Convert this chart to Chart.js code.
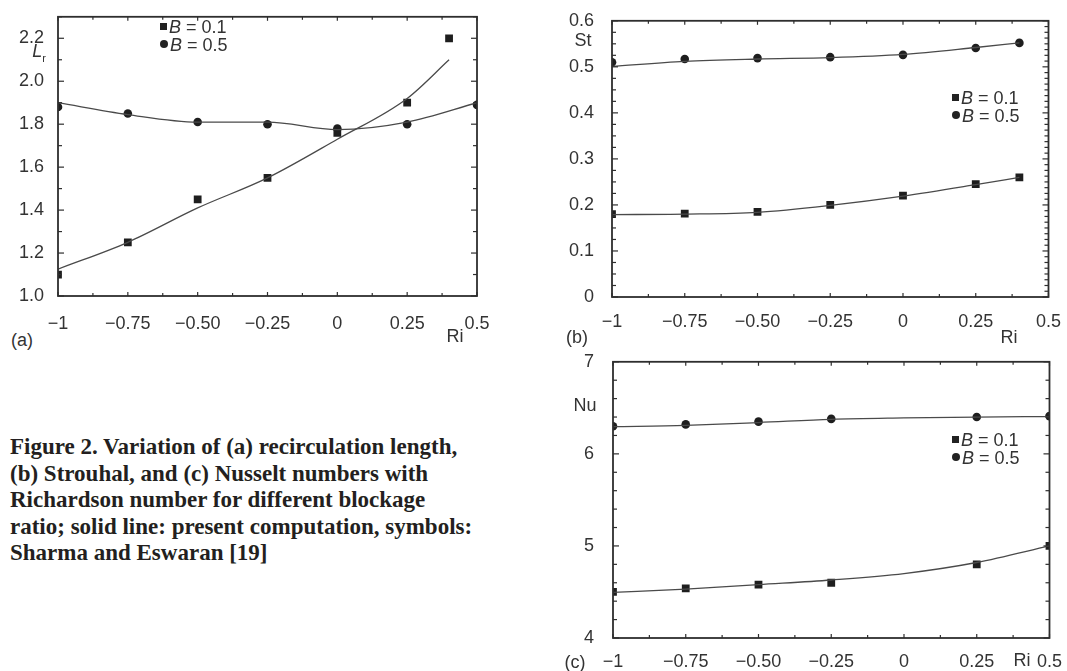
<!DOCTYPE html>
<html>
<head>
<meta charset="utf-8">
<script src="https://cdn.jsdelivr.net/npm/chart.js@4/dist/chart.umd.min.js"></script>
<style>
body { margin: 0; width: 1067px; height: 671px; background: #fff; position: relative; overflow: hidden;
       font-family: "Liberation Sans", Arial, sans-serif; color: #333; }
canvas { position: absolute; }
.lbl { position: absolute; font-size: 18px; line-height: 1; white-space: nowrap; transform: translate(-50%, -50%); }
.legend { position: absolute; font-size: 18px; line-height: 18px; white-space: nowrap; color: #333; }
.legend .m { display: inline-block; width: 7px; height: 7px; background: #222; margin-right: 2px; vertical-align: 3px; }
.legend .c { border-radius: 50%; width: 8px; height: 8px; }
#caption { position: absolute; left: 10px; top: 434px; font-family: "Liberation Serif", "Times New Roman", serif;
           font-weight: bold; font-size: 23px; line-height: 26.5px; color: #231f20; white-space: nowrap; }
</style>
</head>
<body>

<canvas id="chartA" width="500" height="330" style="left:0;top:0"></canvas>
<canvas id="chartB" width="527" height="330" style="left:540px;top:0"></canvas>
<canvas id="chartC" width="527" height="331" style="left:540px;top:340px"></canvas>

<div class="lbl" style="left:22px;top:340px">(a)</div>
<div class="lbl" style="left:455px;top:336px">Ri</div>
<div class="lbl" style="left:39px;top:53px"><i>L</i><sub style="font-size:11px">r</sub></div>
<div class="legend" style="left:160px;top:18px">
  <div><span class="m"></span><i>B</i> = 0.1</div>
  <div><span class="m c"></span><i>B</i> = 0.5</div>
</div>

<div class="lbl" style="left:577px;top:337px">(b)</div>
<div class="lbl" style="left:1009px;top:337px">Ri</div>
<div class="lbl" style="left:583px;top:40px">St</div>
<div class="legend" style="left:952px;top:89px">
  <div><span class="m"></span><i>B</i> = 0.1</div>
  <div><span class="m c"></span><i>B</i> = 0.5</div>
</div>

<div class="lbl" style="left:575px;top:662px">(c)</div>
<div class="lbl" style="left:1022px;top:660px">Ri</div>
<div class="lbl" style="left:585px;top:405px">Nu</div>
<div class="legend" style="left:952px;top:431px">
  <div><span class="m"></span><i>B</i> = 0.1</div>
  <div><span class="m c"></span><i>B</i> = 0.5</div>
</div>

<div id="caption">Figure 2. Variation of (a) recirculation length,<br>(b) Strouhal, and (c) Nusselt numbers with<br>Richardson number for different blockage<br>ratio; solid line: present computation, symbols:<br>Sharma and Eswaran [19]</div>

<script>
// x axis, shared by all three panels
const riTicks = [-1, -0.75, -0.5, -0.25, 0, 0.25, 0.5];
const riTickLabels = ['\u22121', '\u22120.75', '\u22120.50', '\u22120.25', '0', '0.25', '0.5'];

// (a) recirculation length Lr
const lrTicks = [1.0, 1.2, 1.4, 1.6, 1.8, 2.0, 2.2];
const lrTickLabels = ['1.0', '1.2', '1.4', '1.6', '1.8', '2.0', '2.2'];
const lrRi01 = [-1, -0.75, -0.5, -0.25, 0, 0.25, 0.4];
const lrSym01 = [1.10, 1.25, 1.45, 1.55, 1.76, 1.90, 2.20];
const lrRi05 = [-1, -0.75, -0.5, -0.25, 0, 0.25, 0.5];
const lrSym05 = [1.88, 1.85, 1.81, 1.80, 1.78, 1.80, 1.89];
const lrLineRi01 = [-1, -0.75, -0.5, -0.25, 0, 0.25, 0.4];
const lrLine01 = [1.125, 1.25, 1.41, 1.55, 1.73, 1.92, 2.10];
const lrLineRi05 = [-1, -0.75, -0.5, -0.25, 0, 0.25, 0.5];
const lrLine05 = [1.90, 1.845, 1.81, 1.81, 1.775, 1.81, 1.90];

// (b) Strouhal number St
const stTicks = [0, 0.1, 0.2, 0.3, 0.4, 0.5, 0.6];
const stTickLabels = ['0', '0.1', '0.2', '0.3', '0.4', '0.5', '0.6'];
const stRi = [-1, -0.75, -0.5, -0.25, 0, 0.25, 0.4];
const stSym01 = [0.18, 0.181, 0.185, 0.20, 0.22, 0.245, 0.26];
const stSym05 = [0.51, 0.517, 0.519, 0.521, 0.526, 0.541, 0.552];
const stLine01 = [0.179, 0.18, 0.184, 0.199, 0.219, 0.244, 0.26];
const stLine05 = [0.501, 0.512, 0.517, 0.52, 0.527, 0.542, 0.552];

// (c) Nusselt number Nu
const nuTicks = [4, 5, 6, 7];
const nuTickLabels = ['4', '5', '6', '7'];
const nuRiSym = [-1, -0.75, -0.5, -0.25, 0.25, 0.5];
const nuSym01 = [4.50, 4.54, 4.58, 4.60, 4.80, 5.00];
const nuSym05 = [6.30, 6.32, 6.35, 6.38, 6.40, 6.41];
const nuRiLine = [-1, -0.75, -0.5, -0.25, 0, 0.25, 0.5];
const nuLine01 = [4.495, 4.53, 4.58, 4.63, 4.70, 4.82, 5.00];
const nuLine05 = [6.295, 6.31, 6.34, 6.375, 6.39, 6.40, 6.405];

const pts = (xs, ys) => xs.map((x, i) => ({x: x, y: ys[i]}));

// frame box with inward ticks on all four sides
const frameTicks = {
    id: 'frameTicks',
    afterDatasetsDraw(chart, args, o) {
        const ctx = chart.ctx, a = chart.chartArea, x = chart.scales.x, y = chart.scales.y;
        const isMajor = (v, m) => Math.abs(v / m - Math.round(v / m)) < 1e-4;
        const seg = (x1, y1, x2, y2) => { ctx.beginPath(); ctx.moveTo(x1, y1); ctx.lineTo(x2, y2); ctx.stroke(); };
        ctx.save();
        ctx.strokeStyle = '#2e2e2e';
        ctx.lineWidth = 1.2;
        let n = Math.round((x.max - x.min) / o.xStep);
        for (let i = 0; i <= n; i++) {
            const v = x.min + i * o.xStep, px = x.getPixelForValue(v);
            const len = isMajor(v, 0.25) ? 4 : 3;
            seg(px, a.bottom, px, a.bottom - len);
            seg(px, a.top, px, a.top + len);
        }
        n = Math.round((y.max - y.min) / o.yLeft);
        for (let i = 0; i <= n; i++) {
            const v = y.min + i * o.yLeft, py = y.getPixelForValue(v);
            seg(a.left, py, a.left + (isMajor(v, o.yMajor) ? 6 : 4), py);
        }
        n = Math.round((y.max - y.min) / o.yRight);
        for (let i = 0; i <= n; i++) {
            const v = y.min + i * o.yRight, py = y.getPixelForValue(v);
            seg(a.right, py, a.right - (isMajor(v, o.yMajor) ? 6 : 4), py);
        }
        ctx.lineWidth = 1.8;
        ctx.strokeRect(a.left, a.top, a.right - a.left, a.bottom - a.top);
        ctx.restore();
    }
};

function lineSet(data) {
    return {data: data, showLine: true, pointRadius: 0, borderColor: '#4a4a4a', borderWidth: 1.3,
            cubicInterpolationMode: 'monotone', clip: 0};
}
function symSet(data, style) {
    return {data: data, showLine: false, pointStyle: style, pointRadius: style === 'rect' ? 5.5 : 4.3,
            backgroundColor: '#1e1e1e', borderColor: '#1e1e1e', borderWidth: 0, clip: 0};
}

function makeChart(id, datasets, cfg) {
    return new Chart(document.getElementById(id).getContext('2d'), {
        type: 'scatter',
        data: {datasets: datasets},
        plugins: [frameTicks],
        options: {
            responsive: false,
            animation: false,
            layout: {padding: {left: 0, top: cfg.top, right: cfg.right, bottom: 0}},
            plugins: {legend: {display: false}, tooltip: {enabled: false}, frameTicks: cfg.ticks},
            scales: {
                x: {
                    type: 'linear', min: -1, max: 0.5,
                    grid: {display: false}, border: {display: false},
                    afterBuildTicks: s => { s.ticks = riTicks.map(v => ({value: v})); },
                    afterFit: s => { s.height = cfg.xHeight; },
                    ticks: {
                        padding: cfg.xPad, color: '#333', maxRotation: 0, autoSkip: false,
                        font: {family: '"Liberation Sans", Arial, sans-serif', size: 18},
                        callback: v => riTickLabels[riTicks.findIndex(t => Math.abs(t - v) < 1e-6)]
                    }
                },
                y: {
                    type: 'linear', min: cfg.yMin, max: cfg.yMax,
                    grid: {display: false}, border: {display: false},
                    afterBuildTicks: s => { s.ticks = cfg.yTicks.map(v => ({value: v})); },
                    afterFit: s => { s.width = cfg.yWidth; },
                    ticks: {
                        padding: cfg.yPad, color: '#333', autoSkip: false,
                        font: {family: '"Liberation Sans", Arial, sans-serif', size: 18},
                        callback: v => cfg.yLabels[cfg.yTicks.findIndex(t => Math.abs(t - v) < 1e-6)]
                    }
                }
            }
        }
    });
}

// (a)
makeChart('chartA', [
    lineSet(pts(lrLineRi01, lrLine01)),
    lineSet(pts(lrLineRi05, lrLine05)),
    symSet(pts(lrRi01, lrSym01), 'rect'),
    symSet(pts(lrRi05, lrSym05), 'circle')
], {top: 10, right: 23, xHeight: 34, yWidth: 58, xPad: 9, yPad: 6,
    yMin: 1.0, yMax: 2.3, yTicks: lrTicks, yLabels: lrTickLabels,
    ticks: {xStep: 0.125, yLeft: 0.1, yRight: 0.1, yMajor: 0.2}});

// (b)
makeChart('chartB', [
    lineSet(pts(stRi, stLine01)),
    lineSet(pts(stRi, stLine05)),
    symSet(pts(stRi, stSym01), 'rect'),
    symSet(pts(stRi, stSym05), 'circle')
], {top: 13, right: 15, xHeight: 33, yWidth: 72, xPad: 6, yPad: 10,
    yMin: 0, yMax: 0.6, yTicks: stTicks, yLabels: stTickLabels,
    ticks: {xStep: 0.125, yLeft: 0.025, yRight: 0.0125, yMajor: 0.1}});

// (c)
makeChart('chartC', [
    lineSet(pts(nuRiLine, nuLine01)),
    lineSet(pts(nuRiLine, nuLine05)),
    symSet(pts(nuRiSym, nuSym01), 'rect'),
    symSet(pts(nuRiSym, nuSym05), 'circle')
], {top: 14, right: 15, xHeight: 33, yWidth: 73, xPad: 5, yPad: 11,
    yMin: 4, yMax: 7, yTicks: nuTicks, yLabels: nuTickLabels,
    ticks: {xStep: 0.125, yLeft: 0.2, yRight: 0.2, yMajor: 1}});
</script>
</body>
</html>
